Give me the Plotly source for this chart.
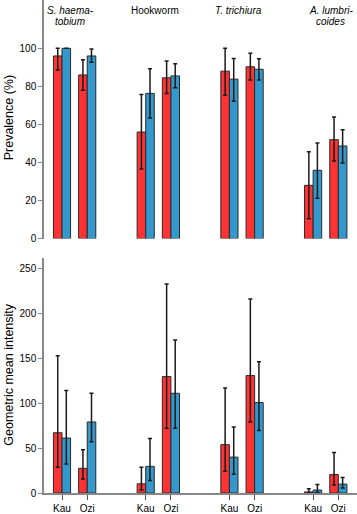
import plotly.graph_objects as go

# ---- data ----
species = ["S. haematobium", "Hookworm", "T. trichiura", "A. lumbricoides"]
title_lines = [["S. haema-", "tobium"], ["Hookworm"], ["T. trichiura"], ["A. lumbri-", "coides"]]
title_italic = [True, False, True, True]
villages = ["Kau", "Ozi"]

# prevalence (%) per species x village (Kau, Ozi)
prev_red = [96, 86, 56, 84.5, 88, 90.3, 28, 52]
prev_red_hi = [100, 94, 75.8, 93.3, 100, 97.4, 45.6, 63.9]
prev_red_lo = [88.6, 78, 36.6, 76.2, 75.3, 83.4, 10.5, 40.8]
prev_blue = [100, 96, 76.3, 85.5, 83.8, 89, 35.9, 48.7]
prev_blue_hi = [100, 99.6, 89.3, 91.9, 94.7, 94.5, 50.3, 57.2]
prev_blue_lo = [100, 92.7, 63.4, 79.3, 72.2, 83.4, 21.2, 39.7]

# geometric mean intensity
int_red = [67, 27.4, 10.2, 129.5, 53.8, 130.6, 1.2, 20.5]
int_red_hi = [152.6, 48, 28.5, 232.4, 116.7, 215.9, 4.7, 45]
int_red_lo = [28.5, 15.7, 3.3, 72.1, 24.1, 79, 0, 8.8]
int_blue = [61.1, 79, 29.6, 110.9, 39.9, 100.6, 3.3, 9.9]
int_blue_hi = [114, 110.9, 60.7, 170.1, 73.5, 146, 9.5, 17.2]
int_blue_lo = [32.2, 57, 13.9, 72.1, 20.9, 69.5, 0.5, 5.5]

prev_ticks = [0, 20, 40, 60, 80, 100]
int_ticks = [0, 50, 100, 150, 200, 250]

RED = "#FF3333"
BLUE = "#3399CC"
GROUP_STEP = 3.32

xpos = []
xlabels = []
for g in range(len(species)):
    for v, name in enumerate(villages):
        xpos.append(g * GROUP_STEP + v)
        xlabels.append(name)


def err(vals, hi, lo):
    return dict(type="data", symmetric=False,
                array=[h - v for v, h in zip(vals, hi)],
                arrayminus=[v - l for v, l in zip(vals, lo)],
                color="#1a1a1a", thickness=1.5, width=2)


fig = go.Figure()
for vals, hi, lo, col, xa, ya in [
    (prev_red, prev_red_hi, prev_red_lo, RED, "x", "y"),
    (prev_blue, prev_blue_hi, prev_blue_lo, BLUE, "x", "y"),
    (int_red, int_red_hi, int_red_lo, RED, "x2", "y2"),
    (int_blue, int_blue_hi, int_blue_lo, BLUE, "x2", "y2"),
]:
    fig.add_trace(go.Bar(
        x=xpos, y=vals, xaxis=xa, yaxis=ya,
        marker=dict(color=col, line=dict(color="#2a2a2a", width=1)),
        error_y=err(vals, hi, lo), showlegend=False,
        offsetgroup=("r" if col == RED else "b") + xa,
    ))

xrange = [-0.714, 11.70]
FAM = "Liberation Sans, Arial, sans-serif"
font = dict(family=FAM, size=10, color="#000")

fig.update_layout(
    width=357, height=514,
    margin=dict(l=44, r=0, t=0, b=14),
    paper_bgcolor="white", plot_bgcolor="white",
    barmode="group", bargap=0.32, bargroupgap=0,
    font=font,
    xaxis=dict(domain=[0, 1], range=xrange, visible=False, anchor="y"),
    yaxis=dict(domain=[0.516, 1], range=[0, 125.4], anchor="x",
               tickvals=prev_ticks, ticks="outside", ticklen=4, tickcolor="#888",
               showline=True, linecolor="#888", linewidth=1.5,
               showgrid=False, zeroline=False, tickfont=font),
    xaxis2=dict(domain=[0, 1], range=xrange, anchor="y2",
                tickvals=xpos, ticktext=xlabels, ticks="outside", ticklen=5,
                tickcolor="#555", showline=True, linecolor="#888", linewidth=1.5,
                showgrid=False, zeroline=False, tickfont=font),
    yaxis2=dict(domain=[0, 0.476], range=[0, 261], anchor="x2",
                tickvals=int_ticks, ticks="outside", ticklen=4, tickcolor="#888",
                showline=True, linecolor="#888", linewidth=1.5,
                showgrid=False, zeroline=False, tickfont=font),
)

annotations = []
title_px = [70, 154.5, 238.5, 330.5]
for lines, it, px in zip(title_lines, title_italic, title_px):
    for i, line in enumerate(lines):
        txt = f"<i>{line}</i>" if it else line
        annotations.append(dict(
            text=txt, xref="paper", yref="paper",
            x=(px - 44) / 313, y=(500 - (11 + 10.5 * i)) / 500,
            xanchor="center", yanchor="middle", showarrow=False,
            font=dict(family=FAM, size=10, color="#000"),
        ))

annotations.append(dict(text="Prevalence (%)", xref="paper", yref="paper",
                        x=(9 - 44) / 313, y=(500 - 120) / 500, textangle=-90,
                        xanchor="center", yanchor="middle", showarrow=False,
                        font=dict(family=FAM, size=12.5, color="#000")))
annotations.append(dict(text="Geometric mean intensity", xref="paper", yref="paper",
                        x=(9 - 44) / 313, y=(500 - 380) / 500, textangle=-90,
                        xanchor="center", yanchor="middle", showarrow=False,
                        font=dict(family=FAM, size=12.5, color="#000")))
fig.update_layout(annotations=annotations)

fig.write_html(
    "out.html",
    config={"displayModeBar": False},
    post_script="document.body.style.margin='0';document.body.style.overflow='hidden';",
)
